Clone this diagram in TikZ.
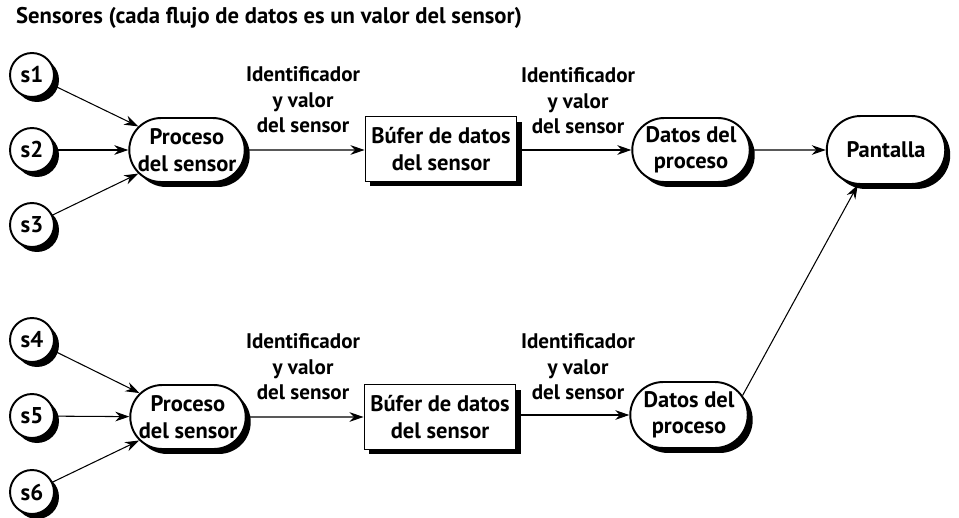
\documentclass[tikz,border=0pt]{standalone}
\usepackage{fontspec}
\setmainfont{PT Sans}
\usepackage{tikz}
\usetikzlibrary{positioning, arrows.meta, shapes.misc, shadows}

\begin{document}
\begin{tikzpicture}[
    x=0.02cm, y=-0.02cm,
    font=\fontsize{12}{14.5}\selectfont\bfseries,
    shadowed/.style={
        drop shadow={fill=black, opacity=1, shadow xshift=0.1cm, shadow yshift=-0.1cm}
    },
    sensor/.style={
        circle,
        draw=black,
        fill=white,
        line width=1.1pt,
        shadowed,
        inner sep=0pt,
        minimum size=0.88cm,
        font=\fontsize{13}{15}\selectfont\bfseries
    },
    proceso/.style={
        rounded rectangle,
        draw=black,
        fill=white,
        line width=1.1pt,
        shadowed,
        align=center,
        inner sep=1pt,
        minimum width=2.38cm,
        minimum height=1.28cm,
        font=\fontsize{12.8}{15}\selectfont\bfseries
    },
    bufer/.style={
        rectangle,
        draw=black,
        fill=white,
        line width=1.1pt,
        shadowed,
        align=center,
        minimum width=2.9cm,
        minimum height=1.3cm,
        font=\fontsize{12.8}{15}\selectfont\bfseries
    },
    flujo/.style={
        align=center,
        inner sep=0pt
    },
    arrow/.style={
        line width=0.6pt,
        -{Stealth[length=8pt, width=5.5pt]}
    }
]
\useasboundingbox (0,0) rectangle (959,517);

% Nodes
\node (title) [anchor=west, font=\fontsize{12.9}{15}\selectfont\bfseries] at (10,18) {Sensores (cada flujo de datos es un valor del sensor)};

\node (s1) [sensor] at (32,75) {s1};
\node (s2) [sensor] at (32,150) {s2};
\node (s3) [sensor] at (32,225) {s3};
\node (s4) [sensor] at (32,340) {s4};
\node (s5) [sensor] at (32,416) {s5};
\node (s6) [sensor] at (32,492) {s6};

\node (procA) [proceso] at (187,150) {Proceso\\del sensor};
\node (procB) [proceso] at (188,417) {Proceso\\del sensor};

\node (bufA) [bufer] at (441,149) {Búfer de datos\\del sensor};
\node (bufB) [bufer] at (440,417) {Búfer de datos\\del sensor};

\node (datA) [proceso, minimum width=2.42cm] at (691,150) {Datos del\\proceso};
\node (datB) [proceso, minimum width=2.42cm, minimum height=1.32cm] at (689,415) {Datos del\\proceso};

\node (pantalla) [proceso, minimum width=2.44cm, minimum height=1.36cm] at (886,150) {Pantalla};

\node (idA1) [flujo] at (303,100) {Identificador\\y valor\\del sensor};
\node (idA2) [flujo] at (578,101) {Identificador\\y valor\\del sensor};
\node (idB1) [flujo] at (303,367) {Identificador\\y valor\\del sensor};
\node (idB2) [flujo] at (578,367) {Identificador\\y valor\\del sensor};

% Connections
\draw [arrow] (s1) -- (procA);
\draw [arrow] (s2) -- (procA);
\draw [arrow] (s3) -- (procA);
\draw [arrow] (s4) -- (procB);
\draw [arrow] (s5) -- (procB);
\draw [arrow] (s6) -- (procB);

\draw [arrow] (procA) -- (procA -| bufA.west);
\draw [arrow] (procB) -- (procB -| bufB.west);
\draw [arrow] (bufA.east |- datA) -- (datA);
\draw [arrow] (bufB.east |- datB) -- (datB);

\draw [arrow] (datA) -- (pantalla);
\draw [arrow] (datB.20) -- (pantalla.231);

\end{tikzpicture}
\end{document}
